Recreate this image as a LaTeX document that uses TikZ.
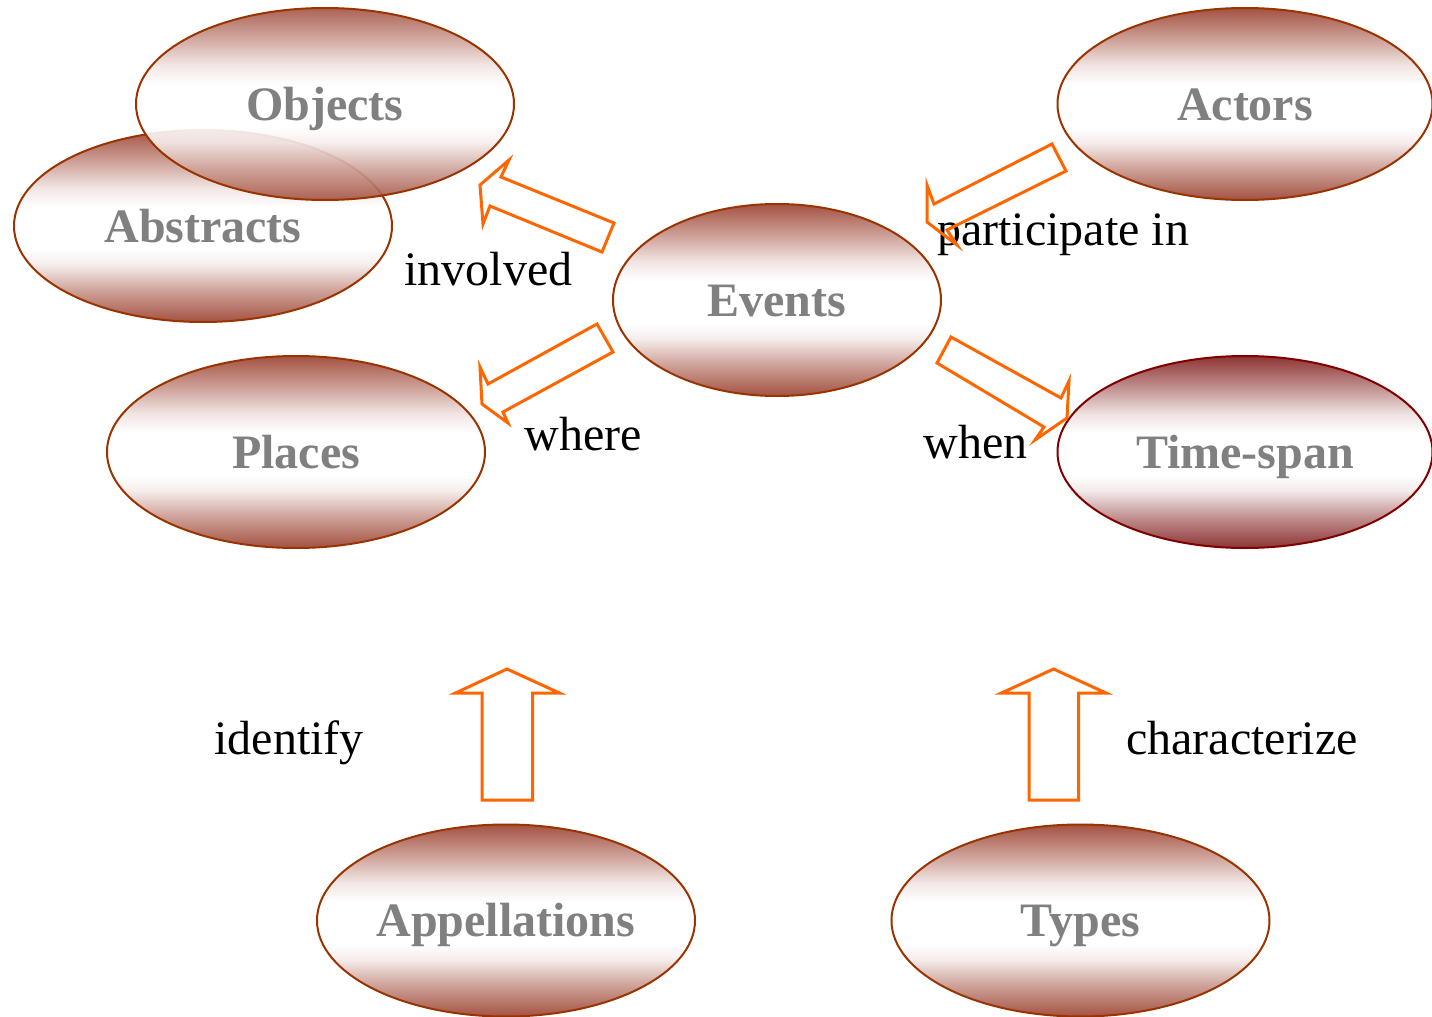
\documentclass[tikz,border=0pt]{standalone}
\usepackage{fontspec}
\setmainfont{Liberation Serif}
\usetikzlibrary{shapes.geometric}

\definecolor{rimBrown}{RGB}{153,51,0}
\definecolor{rimMaroon}{RGB}{128,0,0}
\definecolor{arrowOrange}{RGB}{255,102,0}
\definecolor{conceptGray}{RGB}{128,128,128}

% vertical fills: dark at the rims, a soft white band a little below the middle
\pgfdeclareverticalshading{brownband}{100bp}{%
  rgb(0bp)=(0.643,0.322,0.259); rgb(25bp)=(0.643,0.322,0.259);
  rgb(33bp)=(0.804,0.627,0.592); rgb(40bp)=(0.964,0.932,0.926);
  rgb(44bp)=(1,1,1); rgb(55bp)=(1,1,1);
  rgb(60bp)=(0.946,0.898,0.889); rgb(66bp)=(0.822,0.661,0.630);
  rgb(75bp)=(0.643,0.322,0.259); rgb(100bp)=(0.643,0.322,0.259)}
\pgfdeclareverticalshading{maroonband}{100bp}{%
  rgb(0bp)=(0.557,0.204,0.204); rgb(25bp)=(0.557,0.204,0.204);
  rgb(33bp)=(0.756,0.562,0.562); rgb(40bp)=(0.956,0.920,0.920);
  rgb(44bp)=(1,1,1); rgb(55bp)=(1,1,1);
  rgb(60bp)=(0.934,0.881,0.881); rgb(66bp)=(0.779,0.602,0.602);
  rgb(75bp)=(0.557,0.204,0.204); rgb(100bp)=(0.557,0.204,0.204)}

\begin{document}
\begin{tikzpicture}[x=0.5pt,y=-0.5pt,
  concept/.style={ellipse, draw=rimBrown, line width=1pt, inner sep=0pt,
    minimum width=189pt, minimum height=96pt, shading=brownband,
    font=\bfseries\fontsize{24}{28}\selectfont, text=conceptGray,
    text height=16pt, text depth=0pt},
  relation/.style={font=\fontsize{24}{28}\selectfont, anchor=base, inner sep=0pt},
  blockarrow/.style={draw=arrowOrange, line width=1.5pt, line join=miter}]
\useasboundingbox (0,0) rectangle (1432,1017);

% concept ellipses
\node[concept] (abstracts) at (203,226) {Abstracts};
\node[concept, fill opacity=0.9, text opacity=1] (objects) at (325,104) {Objects};
\node[concept, minimum width=164pt] (events) at (777,300) {Events};
\node[concept, minimum width=187.5pt] (actors) at (1245,104) {Actors};
\node[concept] (places) at (296,452) {Places};
\node[concept, minimum width=187.5pt, draw=rimMaroon, shading=maroonband]
  (timespan) at (1245,452) {Time-span};
\node[concept] (appellations) at (506,920.5) {Appellations};
\node[concept] (types) at (1080.5,920.5) {Types};

% relation labels
\node[relation] (involved) at (488.5,285) {involved};
\node[relation] (participate) at (1063,245) {participate in};
\node[relation] (where) at (583,450) {where};
\node[relation] (when) at (975.5,458) {when};
\node[relation] (identify) at (289,754) {identify};
\node[relation] (characterize) at (1242,754) {characterize};

% block arrows
% events -> objects / abstracts
\draw[blockarrow] (614,223) -- (501,177) -- (509,160) -- (480,185) -- (483,224)
  -- (490,206) -- (602,252) -- cycle;
% events -> places
\draw[blockarrow] (597,324) -- (488,384) -- (480,367) -- (482,404) -- (508,423)
  -- (503,412) -- (613,352) -- cycle;
% actors -> events
\draw[blockarrow] (1052,144) -- (934,204) -- (927,185) -- (927,222) -- (957,245)
  -- (947,230) -- (1066,171) -- cycle;
% events -> time-span
\draw[blockarrow] (951,337) -- (1061,398) -- (1069,381) -- (1067,418) -- (1035,440)
  -- (1044,427) -- (937,363) -- cycle;
% appellations -> places
\draw[blockarrow] (482,800) -- (482,693) -- (455.5,693) -- (507,669) -- (559.5,693)
  -- (532.5,693) -- (532.5,800) -- cycle;
% types -> time-span
\draw[blockarrow] (1029,800) -- (1029,693) -- (1001.5,693) -- (1053.5,669) -- (1106,693)
  -- (1078.5,693) -- (1078.5,800) -- cycle;
\end{tikzpicture}
\end{document}
